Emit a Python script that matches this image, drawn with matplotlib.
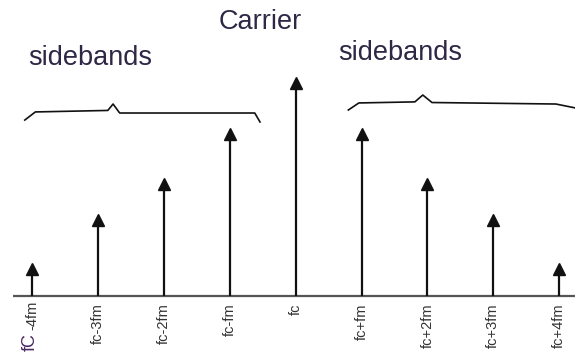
import matplotlib
matplotlib.use("Agg")
import matplotlib.pyplot as plt
import numpy as np

labels = ["fc-4fm", "fc-3fm", "fc-2fm", "fc-fm", "fc", "fc+fm", "fc+2fm", "fc+3fm", "fc+4fm"]
amplitudes = [0.13, 0.36, 0.53, 0.76, 1.0, 0.76, 0.53, 0.36, 0.13]

fig = plt.figure(figsize=(5.75, 3.63), dpi=100)
ax = fig.add_axes([0, 0, 1, 1])
ax.set_xlim(-0.486, 8.24)
ax.set_ylim(-0.313, 1.383)
ax.axis("off")

x = np.arange(len(labels))
txt_color = "#2e2745"
narrow = ["Liberation Sans Narrow", "Liberation Sans"]

# baseline
ax.plot([-0.29, 8.24], [0, 0], color="#555555", lw=1.6, solid_capstyle="butt")
# stems and arrow heads
ax.vlines(x, 0, amplitudes, color="#111111", lw=1.6)
ax.plot(x, np.array(amplitudes) - 0.005, marker="^", ls="none", color="#111111", markersize=8)

# labels
for xi, lab in zip(x, labels):
    if xi == 0:
        ax.text(xi, -0.02, "-4fm", rotation=90, ha="center", va="top",
                fontsize=10.5, family=narrow, color="#333333")
        ax.text(xi - 0.02, -0.175, "fC", rotation=90, ha="center", va="top",
                fontsize=13, family="Liberation Sans", color="#4a2a60")
    else:
        ax.text(xi, -0.035, lab, rotation=90, ha="center", va="top",
                fontsize=10.5, family=narrow, color="#333333")

# braces
lb_x = [-0.11, 0.05, 1.15, 1.23, 1.33, 3.38, 3.46]
lb_y = [0.822, 0.860, 0.867, 0.897, 0.855, 0.855, 0.813]
ax.plot(lb_x, lb_y, color="#111111", lw=1.2)
rb_x = [4.80, 4.96, 5.81, 5.93, 6.07, 7.95, 8.24]
rb_y = [0.869, 0.902, 0.907, 0.939, 0.904, 0.897, 0.879]
ax.plot(rb_x, rb_y, color="#111111", lw=1.2)

ax.text(3.46, 1.28, "Carrier", ha="center", va="center", fontsize=19.5,
        family="Liberation Sans", color=txt_color)
ax.text(0.88, 1.11, "sidebands", ha="center", va="center", fontsize=19.5,
        family="Liberation Sans", color=txt_color)
ax.text(5.585, 1.135, "sidebands", ha="center", va="center", fontsize=19.5,
        family="Liberation Sans", color=txt_color)

fig.savefig("out.png", dpi=100)
